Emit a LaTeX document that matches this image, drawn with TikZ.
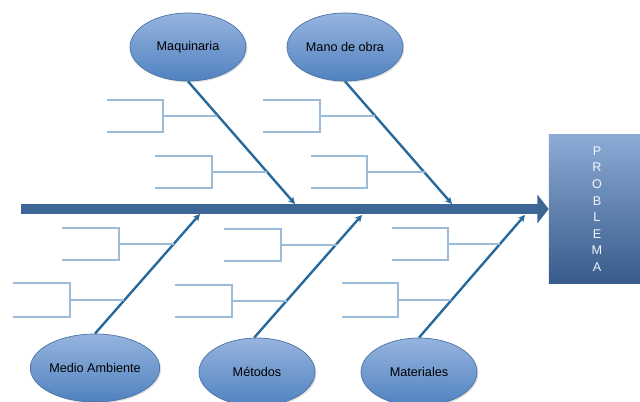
\documentclass[tikz,border=0pt]{standalone}
\usepackage{fontspec}
\setmainfont{Liberation Sans}
\usepackage{tikz}
\usetikzlibrary{shapes.geometric,arrows.meta,shadows}

\definecolor{causefill}{RGB}{150,180,222}
\definecolor{causedark}{RGB}{80,130,192}
\definecolor{causeline}{RGB}{75,115,165}
\definecolor{bonecol}{RGB}{40,105,155}
\definecolor{spinecol}{RGB}{60,102,150}
\definecolor{bracketcol}{RGB}{155,187,217}
\definecolor{boxlight}{RGB}{140,170,212}
\definecolor{boxdark}{RGB}{58,96,146}

\begin{document}
\begin{tikzpicture}[x=0.025cm,y=-0.025cm,
    every node/.style={font=\fontsize{9}{11}\selectfont,align=center},
    cause/.style={shape=ellipse,draw=causeline,line width=0.5pt,top color=causefill,bottom color=causedark,
      minimum width=2.9cm,minimum height=1.7cm,inner sep=0pt,drop shadow={opacity=0.25,shadow xshift=1pt,shadow yshift=-1pt}},
    bone/.style={draw=bonecol,line width=1.7pt,-{Stealth[length=5pt,width=5pt]}},
    bracket/.style={draw=bracketcol,line width=0.8pt}]
  \useasboundingbox (0,0) rectangle (640,402);

  % problema
  \node[shape=rectangle,minimum width=2.4cm,minimum height=3.7cm,inner sep=0pt,
    top color=boxlight,middle color=boxdark,bottom color=boxdark!95!black,text=white!88!boxlight,
    drop shadow={opacity=0.25,shadow xshift=1pt,shadow yshift=-1pt},
    font=\fontsize{9}{11.8}\selectfont] (problema) at (597,209) {P\\R\\O\\B\\L\\E\\M\\A};

  % espina
  \coordinate (tail) at (21,209);
  \draw[draw=spinecol,line width=7pt,-{Triangle[length=8pt,width=20pt]}] (tail) -- (problema.west);

  % causas
  \node[cause] (maq) at (188,47) {Maquinaria};
  \node[cause] (mano) at (345,47) {Mano de obra};
  \node[cause] (medio) at (95,368) {Medio Ambiente};
  \node[cause] (met) at (257,372) {Métodos};
  \node[cause] (mat) at (419,372) {Materiales};

  \coordinate (maqend) at (295,204);
  \coordinate (manoend) at (452,204);
  \coordinate (medioend) at (200,214);
  \coordinate (metend) at (362,215);
  \coordinate (matend) at (525,215);

  \draw[bone] (maq.south) -- (maqend);
  \draw[bone] (mano.south) -- (manoend);
  \draw[bone] (medio.north) -- (medioend);
  \draw[bone] ([xshift=-2pt]met.north) -- (metend);
  \draw[bone] (mat.north) -- (matend);

  % subcausas
  \foreach \xa/\xb/\yt/\yb/\xe in {107/163/100/132/217, 155/212/156/188/267,
      263/320/100/132/375, 311/367/156/188/425,
      62/119/228/260/174, 13/70/283/317/124,
      224/281/229/261/337, 175/232/285/317/287,
      392/448/228/260/500, 342/398/283/317/451}{
    \draw[bracket] (\xa,\yt) -- (\xb,\yt) -- (\xb,\yb) -- (\xa,\yb);
    \draw[bracket] (\xb,{(\yt+\yb)/2}) -- (\xe,{(\yt+\yb)/2});
  }
\end{tikzpicture}
\end{document}
